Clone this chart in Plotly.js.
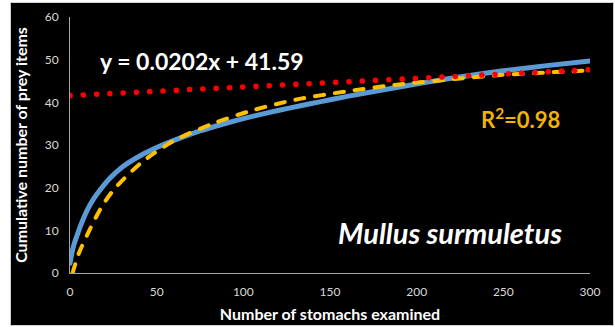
<!DOCTYPE html>
<html><head><meta charset="utf-8">
<script src="https://cdn.plot.ly/plotly-3.0.1.min.js"></script>
<style>
html,body{margin:0;padding:0;background:#ffffff;width:615px;height:327px;overflow:hidden;}
#chart{position:absolute;left:11px;top:3px;width:602px;height:322px;outline:1px solid #d0d0d0;}
#chart .js-line{stroke-linecap:round;}
</style></head>
<body><div id="chart"></div>
<script>
// Observed cumulative curve (blue)
const obsX = [0, 1, 2, 4.5, 7, 10, 14, 18, 23, 30, 41, 50, 60, 75, 90, 104, 120, 133, 144, 160, 190, 219, 250, 275, 300];
const obsY = [2.3, 4.5, 6.3, 9.3, 12, 14.8, 17.6, 19.8, 22.2, 24.8, 27.6, 29.4, 31.1, 33.3, 35.1, 36.6, 38.1, 39.2, 40.1, 41.4, 43.6, 45.6, 47.4, 48.6, 49.7];
// Logarithmic trendline (yellow dashed)
const logX = [1.5, 5, 12, 18, 25, 41, 60, 83, 106, 130, 160, 190, 220, 248, 275, 300];
const logY = [0, 4.5, 10.7, 15.3, 19.4, 25.8, 31, 35.1, 38.2, 40.6, 42.6, 44.2, 45.4, 46.4, 47, 47.5];
// Linear trendline (red dotted): y = 0.0202x + 41.59
const linX = [0, 300];
const linY = [41.59, 47.65];
const xTicks = [0, 50, 100, 150, 200, 250, 300];
const yTicks = [0, 10, 20, 30, 40, 50, 60];

const font = 'Lato, "Open Sans", sans-serif';
const traces = [
  {x: obsX, y: obsY, mode: 'lines', line: {color: '#5b9bd5', width: 5, shape: 'spline', smoothing: 0.6}},
  {x: logX, y: logY, mode: 'lines', line: {color: '#ffc000', width: 4, dash: '9px,11px', shape: 'spline', smoothing: 0.8}},
  {x: linX, y: linY, mode: 'lines', line: {color: '#ff0000', width: 5.5, dash: '0.1px,13.2px'}}
];
const layout = {
  width: 602, height: 322,
  paper_bgcolor: '#000000', plot_bgcolor: '#000000',
  showlegend: false,
  margin: {l: 59, r: 23, t: 14, b: 52},
  font: {family: font, color: '#d9d9d9', size: 12},
  xaxis: {range: [0, 300], tickvals: xTicks, ticktext: xTicks.map(String), showgrid: false, zeroline: false,
    showline: true, linecolor: '#a6a6a6', linewidth: 1, ticks: '', ticklabelstandoff: 8,
    tickfont: {family: font, size: 12, color: '#d9d9d9'},
    title: {text: 'Number of stomachs examined', font: {family: font, size: 16, color: '#ffffff', weight: 'bold'}, standoff: 10}},
  yaxis: {range: [0, 60], tickvals: yTicks, ticktext: yTicks.map(String), showgrid: false, zeroline: false,
    showline: true, linecolor: '#a6a6a6', linewidth: 1, ticks: '', ticklabelstandoff: 8,
    tickfont: {family: font, size: 12, color: '#d9d9d9'},
    title: {text: 'Cumulative number of prey items', font: {family: font, size: 16, color: '#ffffff', weight: 'bold'}, standoff: 15}},
  annotations: [
    {xref: 'x', yref: 'y', x: 76, y: 49.8, text: 'y = 0.0202x + 41.59', showarrow: false,
      font: {family: font, size: 23, color: '#ffffff', weight: 'bold'}},
    {xref: 'x', yref: 'y', x: 260, y: 36.2, text: 'R<sup>2</sup>=0.98', showarrow: false,
      font: {family: font, size: 22, color: '#f0b400', weight: 'bold'}},
    {xref: 'x', yref: 'y', x: 219, y: 9.4, text: '<i>Mullus surmuletus</i>', showarrow: false,
      font: {family: font, size: 29, color: '#ffffff', weight: 'bold'}}
  ]
};
Plotly.newPlot('chart', traces, layout, {displayModeBar: false, staticPlot: true});
</script></body></html>
